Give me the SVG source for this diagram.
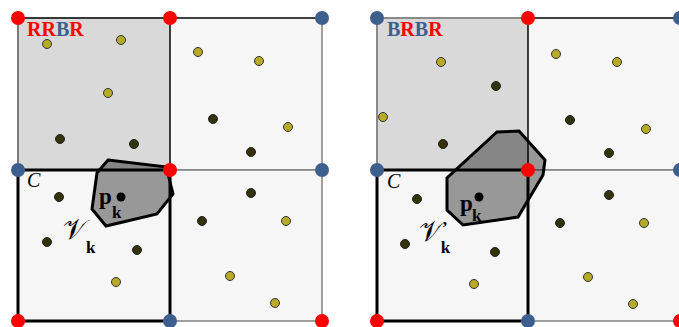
<svg xmlns="http://www.w3.org/2000/svg" width="679" height="327" viewBox="0 0 679 327">
<style>
.cellD{fill:#d9d9d9;stroke:#7a7a7a;stroke-width:2}
.cellL{fill:#f6f6f6;stroke:#808080;stroke-width:1.5}
.edge{stroke:#222;stroke-width:1.5;fill:none}
.cellC{fill:#f6f6f6;stroke:#000;stroke-width:3}
.poly{fill:#000;fill-opacity:0.38;stroke:#000;stroke-width:3;stroke-linejoin:miter}
.vr{fill:#ff0000}
.vb{fill:#3d5f8e}
.dy{fill:#b5ab27;stroke:#333;stroke-width:1}
.dd{fill:#33320a;stroke:#222;stroke-width:1}
.lab{font-family:"Liberation Serif",serif;font-weight:bold}
.it{font-family:"Liberation Serif",serif;font-style:italic}
.cal{font-family:"DejaVu Serif","Liberation Serif",serif;font-size:28px}
.sub{font-family:"Liberation Serif",serif;font-weight:bold;font-size:17px}
</style>
<rect width="679" height="327" fill="#fff"/>
<g id="left-panel">
  <g id="cellL-TL"><rect class="cellD" x="18" y="18" width="152" height="152"/></g>
  <g id="cellL-TR"><rect class="cellL" x="170" y="18" width="152" height="152"/></g>
  <g id="cellL-BR"><rect class="cellL" x="170" y="170" width="152" height="151"/></g>
  <path class="edge" d="M18 18H322M170 18V170"/>
  <g id="cellL-C"><rect class="cellC" x="18" y="170" width="152" height="151"/></g>
</g>
<g id="right-panel">
  <g id="cellR-TL"><rect class="cellD" x="377" y="18" width="151" height="152" style="stroke:#8a8a8a"/></g>
  <g id="cellR-TR"><rect class="cellL" x="528" y="18" width="152" height="152"/></g>
  <g id="cellR-BR"><rect class="cellL" x="528" y="170" width="152" height="151"/></g>
  <path class="edge" d="M528 18H680M528 18V170"/>
  <g id="cellR-C"><rect class="cellC" x="377" y="170" width="151" height="151"/></g>
</g>
<g id="dots">
  <circle class="dy" cx="47" cy="44" r="4.5"/>
  <circle class="dy" cx="121" cy="40" r="4.5"/>
  <circle class="dy" cx="108" cy="93" r="4.5"/>
  <circle class="dd" cx="60" cy="139" r="4.5"/>
  <circle class="dd" cx="134" cy="144" r="4.5"/>
  <circle class="dy" cx="198" cy="52" r="4.5"/>
  <circle class="dy" cx="259" cy="61" r="4.5"/>
  <circle class="dd" cx="213" cy="119" r="4.5"/>
  <circle class="dy" cx="288" cy="127" r="4.5"/>
  <circle class="dd" cx="251" cy="152" r="4.5"/>
  <circle class="dd" cx="59" cy="197" r="4.5"/>
  <circle class="dd" cx="47" cy="242" r="4.5"/>
  <circle class="dd" cx="137" cy="250" r="4.5"/>
  <circle class="dy" cx="116" cy="282" r="4.5"/>
  <circle class="dd" cx="251" cy="193" r="4.5"/>
  <circle class="dd" cx="202" cy="221" r="4.5"/>
  <circle class="dy" cx="286" cy="221" r="4.5"/>
  <circle class="dy" cx="230" cy="276" r="4.5"/>
  <circle class="dy" cx="275" cy="303" r="4.5"/>

  <circle class="dy" cx="441" cy="62" r="4.5"/>
  <circle class="dd" cx="496" cy="86" r="4.5"/>
  <circle class="dy" cx="383" cy="117" r="4.5"/>
  <circle class="dd" cx="443" cy="144" r="4.5"/>
  <circle class="dy" cx="556" cy="54" r="4.5"/>
  <circle class="dy" cx="617" cy="62" r="4.5"/>
  <circle class="dd" cx="570" cy="120" r="4.5"/>
  <circle class="dy" cx="646" cy="129" r="4.5"/>
  <circle class="dd" cx="609" cy="153" r="4.5"/>
  <circle class="dd" cx="417" cy="199" r="4.5"/>
  <circle class="dd" cx="405" cy="244" r="4.5"/>
  <circle class="dd" cx="495" cy="252" r="4.5"/>
  <circle class="dy" cx="474" cy="284" r="4.5"/>
  <circle class="dd" cx="609" cy="195" r="4.5"/>
  <circle class="dd" cx="560" cy="223" r="4.5"/>
  <circle class="dy" cx="644" cy="223" r="4.5"/>
  <circle class="dy" cx="588" cy="277" r="4.5"/>
  <circle class="dy" cx="633" cy="304" r="4.5"/>
</g>
<g id="cell-Vk">
  <polygon class="poly" points="108,160 167,167 169,178 173,194 157,214 106,226 92,209 97,173"/>
  <circle cx="121" cy="197" r="4.5" fill="#000"/>
  <text class="lab" x="99" y="204" font-size="23">p<tspan class="sub" x="112" y="218">k</tspan></text>
</g>
<g id="cell-Vk-prime">
  <polygon class="poly" points="497,132 519,131 545,160 543,175 518,217 463,225 447,210 447,178"/>
  <circle cx="479" cy="197" r="4.5" fill="#000"/>
  <text class="lab" x="460" y="211" font-size="23">p<tspan class="sub" x="472" y="221">k</tspan></text>
</g>
<g id="vertices">
  <circle class="vr" cx="18" cy="18" r="7"/>
  <circle class="vr" cx="170" cy="18" r="7"/>
  <circle class="vb" cx="322" cy="18" r="7"/>
  <circle class="vb" cx="18" cy="170" r="7"/>
  <circle class="vr" cx="170" cy="170" r="7"/>
  <circle class="vb" cx="322" cy="170" r="7"/>
  <circle class="vr" cx="18" cy="321" r="7"/>
  <circle class="vb" cx="170" cy="321" r="7"/>
  <circle class="vr" cx="322" cy="321" r="7"/>
  <circle class="vb" cx="377" cy="18" r="7"/>
  <circle class="vr" cx="528" cy="18" r="7"/>
  <circle class="vb" cx="680" cy="18" r="7"/>
  <circle class="vb" cx="377" cy="170" r="7"/>
  <circle class="vr" cx="528" cy="170" r="7"/>
  <circle class="vb" cx="680" cy="170" r="7"/>
  <circle class="vr" cx="377" cy="321" r="7"/>
  <circle class="vb" cx="528" cy="321" r="7"/>
  <circle class="vr" cx="680" cy="321" r="7"/>
</g>
<g id="labels">
  <text class="lab" x="27" y="36" font-size="20"><tspan fill="#ff0000">RR</tspan><tspan fill="#3d5f8e">B</tspan><tspan fill="#ff0000">R</tspan></text>
  <text class="lab" x="387" y="36" font-size="20"><tspan fill="#3d5f8e">B</tspan><tspan fill="#ff0000">R</tspan><tspan fill="#3d5f8e">B</tspan><tspan fill="#ff0000">R</tspan></text>
  <text class="it" x="27" y="187" font-size="20">C</text>
  <text class="it" x="387" y="188" font-size="20">C</text>
  <text class="cal" x="63" y="239">𝒱<tspan class="sub" dy="14">k</tspan></text>
  <text class="cal" x="419" y="241">𝒱<tspan class="sub" dy="-8" font-size="18">’</tspan><tspan class="sub" dx="-7" dy="20">k</tspan></text>
</g>
</svg>
